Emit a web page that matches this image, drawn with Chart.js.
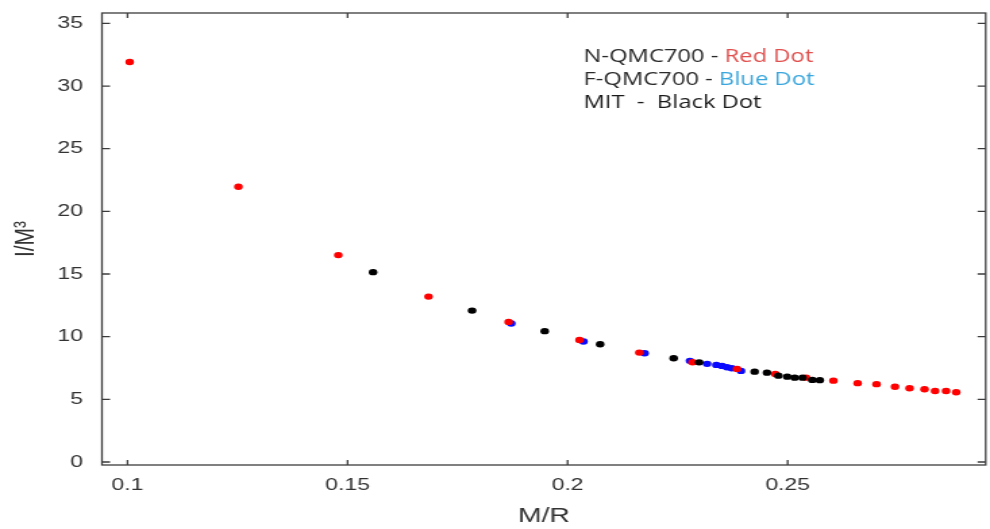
<!DOCTYPE html>
<html>
<head>
<meta charset="utf-8">
<script src="https://cdn.jsdelivr.net/npm/chart.js@4.4.1/dist/chart.umd.min.js"></script>
<style>
  html, body { margin: 0; padding: 0; background: #fff; }
  #plot { display: block; }
</style>
</head>
<body>
<!-- the original figure is stretched sideways, so the canvas is drawn narrow and widened by css -->
<canvas id="plot" width="733" height="529" style="width:990px;height:529px"></canvas>
<script>
// M/R (x) against I/M^3 (y)
const redX = [0.1005, 0.1252, 0.1479, 0.1684, 0.1866, 0.2027, 0.2163, 0.2284, 0.2385, 0.2472,
              0.2542, 0.2604, 0.2659, 0.2702, 0.2744, 0.2777, 0.2811, 0.2835, 0.2860, 0.2883];
const redY = [31.92, 21.96, 16.51, 13.20, 11.18, 9.74, 8.73, 7.96, 7.43, 7.03,
              6.73, 6.49, 6.29, 6.21, 6.01, 5.89, 5.81, 5.67, 5.67, 5.57];

const blueX = [0.1872, 0.2036, 0.2175, 0.2278, 0.2317, 0.2338, 0.2351, 0.2362, 0.2373, 0.2394];
const blueY = [11.05, 9.61, 8.68, 8.07, 7.83, 7.75, 7.67, 7.56, 7.48, 7.27];

const blackX = [0.1558, 0.1783, 0.1948, 0.2074, 0.2241, 0.2299, 0.2425, 0.2453, 0.2479, 0.2499,
                0.2516, 0.2534, 0.2556, 0.2573];
const blackY = [15.15, 12.08, 10.44, 9.40, 8.28, 7.95, 7.21, 7.13, 6.89, 6.81,
                6.73, 6.73, 6.55, 6.53];

const xTicks = [0.1, 0.15, 0.2, 0.25];
const yTicks = [0, 5, 10, 15, 20, 25, 30, 35];

const noteLines = [
  [['N-QMC700 - ', '#2a2a2a'], ['Red Dot', '#e0504e']],
  [['F-QMC700 - ', '#2a2a2a'], ['Blue Dot', '#3aa6dc']],
  [['MIT  -  Black Dot', '#1a1a1a']]
];

function toPoints(xs, ys) {
  return xs.map((x, i) => ({ x: x, y: ys[i] }));
}

// box round the plot with inward ticks on all four sides
const framePlugin = {
  id: 'frame',
  afterDatasetsDraw(chart) {
    const { ctx, chartArea: a, scales } = chart;
    ctx.save();
    ctx.strokeStyle = '#3c3c3c';
    ctx.lineWidth = 1.3;
    ctx.strokeRect(a.left, a.top, a.right - a.left, a.bottom - a.top);
    ctx.beginPath();
    scales.y.ticks.forEach(t => {
      const py = scales.y.getPixelForValue(t.value);
      ctx.moveTo(a.left, py); ctx.lineTo(a.left + 6, py);
      ctx.moveTo(a.right, py); ctx.lineTo(a.right - 6, py);
    });
    scales.x.ticks.forEach(t => {
      const px = scales.x.getPixelForValue(t.value);
      ctx.moveTo(px, a.bottom); ctx.lineTo(px, a.bottom - 5);
      ctx.moveTo(px, a.top); ctx.lineTo(px, a.top + 5);
    });
    ctx.stroke();
    ctx.restore();
  }
};

// the text note in the upper right
const notePlugin = {
  id: 'note',
  afterDraw(chart) {
    const ctx = chart.ctx;
    ctx.save();
    ctx.font = '17.6px "Open Sans", sans-serif';
    ctx.textBaseline = 'middle';
    noteLines.forEach((parts, i) => {
      let x = 432;
      const y = 57 + i * 23;
      parts.forEach(([text, color]) => {
        ctx.fillStyle = color;
        ctx.fillText(text, x, y);
        x += ctx.measureText(text).width;
      });
    });
    ctx.restore();
  }
};

const tickFont = { family: '"Liberation Sans", Arial, sans-serif', size: 17 };
const titleFont = { family: '"Liberation Sans", Arial, sans-serif', size: 21 };

new Chart(document.getElementById('plot'), {
  type: 'scatter',
  data: {
    datasets: [
      { label: 'MIT', data: toPoints(blackX, blackY), backgroundColor: '#000000' },
      { label: 'N-QMC700', data: toPoints(redX, redY), backgroundColor: '#ff0000' },
      { label: 'F-QMC700', data: toPoints(blueX, blueY), backgroundColor: '#0a0aff' }
    ]
  },
  options: {
    responsive: false,
    animation: false,
    devicePixelRatio: 1,
    events: [],
    layout: { padding: { top: 13, right: 0, bottom: 0, left: 0 } },
    elements: { point: { radius: 3.2, borderWidth: 0, hoverRadius: 3.2 } },
    plugins: { legend: { display: false }, tooltip: { enabled: false } },
    scales: {
      x: {
        type: 'linear',
        min: 0.0942,
        max: 0.295,
        grid: { display: false, drawTicks: false },
        border: { display: false },
        afterBuildTicks: s => { s.ticks = xTicks.map(v => ({ value: v })); },
        afterFit: s => { s.height = 64; s.paddingLeft = 0; s.paddingRight = 0; },
        ticks: { padding: 10, color: '#333333', font: tickFont, callback: v => String(v) },
        title: { display: true, text: 'M/R', color: '#333333', font: titleFont, padding: { top: 0, bottom: 0 } }
      },
      y: {
        type: 'linear',
        min: -0.24,
        max: 35.83,
        grid: { display: false, drawTicks: false },
        border: { display: false },
        afterBuildTicks: s => { s.ticks = yTicks.map(v => ({ value: v })); },
        afterFit: s => { s.width = 75.5; s.paddingTop = 0; s.paddingBottom = 0; },
        ticks: { padding: 14, color: '#333333', font: tickFont, callback: v => String(v) },
        title: { display: true, text: 'I/M³', color: '#333333', font: titleFont, padding: { top: 7, bottom: 0 } }
      }
    }
  },
  plugins: [framePlugin, notePlugin]
});
</script>
</body>
</html>
